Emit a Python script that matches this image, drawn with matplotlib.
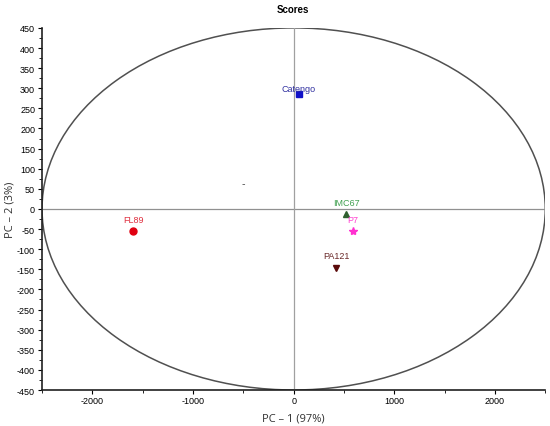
import numpy as np
import matplotlib
matplotlib.use('Agg')
import matplotlib.pyplot as plt
from matplotlib.patches import Ellipse
from matplotlib.ticker import MultipleLocator

plt.rcParams['axes.unicode_minus'] = False

# PCA scores
names = ['Catengo', 'FL89', 'IMC67', 'P7', 'PA121']
pc1 = [50, -1595, 525, 585, 425]
pc2 = [286, -55, -12, -55, -147]
stray_mark = (-505, 65)
ellipse_axes = (2500, 450)

# styling for each sample
marker_styles = ['s', 'o', '^', '*', 'v']
marker_colors = ['#1010c8', '#e00010', '#2f5f2f', '#ff30d0', '#5a0a0a']
text_colors = ['#3030a0', '#e03040', '#40a050', '#ff40d0', '#6a2a2a']
text_offsets = [(0, 1), (0, 5), (0, 5), (0, 5), (0, 6)]

fig = plt.figure(figsize=(5.5, 4.27), dpi=100)
ax = fig.add_axes([0.0764, 0.0843, 0.915, 0.848])

# confidence ellipse and zero lines
ell = Ellipse((0, 0), 2 * ellipse_axes[0], 2 * ellipse_axes[1], fill=False,
              edgecolor='#505050', linewidth=1.1)
ax.add_patch(ell)
ax.axhline(0, color='#909090', linewidth=0.9)
ax.axvline(0, color='#a0a0a0', linewidth=0.9)

for i, name in enumerate(names):
    ax.plot(pc1[i], pc2[i], marker=marker_styles[i], color=marker_colors[i],
            markersize=5 if marker_styles[i] != '*' else 6, linestyle='none')
    ax.annotate(name, (pc1[i], pc2[i]), xytext=text_offsets[i], textcoords='offset points',
                ha='center', va='bottom', fontsize=6.5, color=text_colors[i],
                family='Liberation Sans')

ax.text(stray_mark[0], stray_mark[1], '-', ha='center', va='center', fontsize=7,
        color='#505050')

ax.set_xlim(-2500, 2500)
ax.set_ylim(-450, 450)
ax.xaxis.set_major_locator(MultipleLocator(1000))
ax.xaxis.set_minor_locator(MultipleLocator(500))
ax.yaxis.set_major_locator(MultipleLocator(50))
ax.yaxis.set_minor_locator(MultipleLocator(25))

for side in ['top', 'right']:
    ax.spines[side].set_visible(False)
for side in ['left', 'bottom']:
    ax.spines[side].set_linewidth(1.2)
    ax.spines[side].set_color('#202020')

ax.tick_params(which='major', length=3, width=0.8, labelsize=6.5, pad=2)
ax.tick_params(axis='x', which='major', pad=1)
ax.tick_params(which='minor', length=2, width=0.6)
for lbl in ax.get_xticklabels() + ax.get_yticklabels():
    lbl.set_family('Liberation Sans')

ax.set_xlabel('PC – 1 (97%)', fontsize=8, family='Open Sans', color='#303030', labelpad=5.5)
ax.set_ylabel('PC – 2 (3%)', fontsize=8, family='Open Sans', color='#303030', labelpad=1)
fig.text(0.533, 0.977, 'Scores', ha='center', va='center', fontsize=7,
         fontweight='bold', family='Liberation Sans')

fig.savefig('out.png', dpi=100)
